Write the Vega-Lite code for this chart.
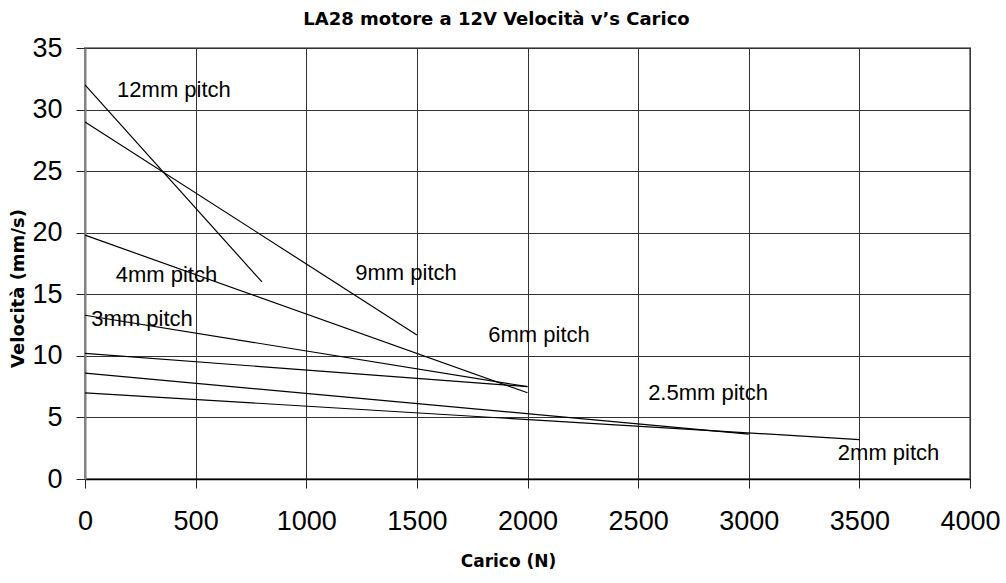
{
  "$schema": "https://vega.github.io/schema/vega-lite/v6.json",
  "width": 885,
  "height": 431,
  "autosize": {"type": "none"},
  "padding": {"left": 85, "top": 48, "right": 36, "bottom": 104},
  "background": "white",
  "title": {
    "text": "LA28 motore a 12V Velocità v’s Carico",
    "font": "DejaVu Sans",
    "fontSize": 18,
    "fontWeight": "bold",
    "color": "black",
    "anchor": "middle",
    "frame": "group",
    "dx": -31,
    "offset": 5
  },
  "config": {
    "view": {"stroke": "#888", "strokeWidth": 2},
    "axis": {
      "labelFont": "Liberation Sans",
      "labelFontSize": 27,
      "labelColor": "black",
      "titleFont": "DejaVu Sans",
      "titleFontWeight": "bold",
      "titleColor": "black",
      "gridColor": "#333",
      "gridWidth": 1,
      "gridOpacity": 1,
      "tickColor": "#222",
      "tickSize": 9,
      "domainColor": "#222"
    }
  },
  "datasets": {
    "curves": [
      {"series": "12mm pitch", "load": 0, "speed": 32},
      {"series": "12mm pitch", "load": 800, "speed": 16},
      {"series": "9mm pitch", "load": 0, "speed": 29},
      {"series": "9mm pitch", "load": 1500, "speed": 11.7},
      {"series": "6mm pitch", "load": 0, "speed": 19.8},
      {"series": "6mm pitch", "load": 2000, "speed": 7.0},
      {"series": "4mm pitch", "load": 0, "speed": 13.3},
      {"series": "4mm pitch", "load": 2000, "speed": 7.5},
      {"series": "3mm pitch", "load": 0, "speed": 10.2},
      {"series": "3mm pitch", "load": 2000, "speed": 7.5},
      {"series": "2.5mm pitch", "load": 0, "speed": 8.6},
      {"series": "2.5mm pitch", "load": 3000, "speed": 3.65},
      {"series": "2mm pitch", "load": 0, "speed": 7.0},
      {"series": "2mm pitch", "load": 3500, "speed": 3.2}
    ],
    "labels": [
      {"label": "12mm pitch", "load": 402, "speed": 31.6},
      {"label": "9mm pitch", "load": 1451, "speed": 16.7},
      {"label": "4mm pitch", "load": 368, "speed": 16.6},
      {"label": "3mm pitch", "load": 258, "speed": 13.0},
      {"label": "6mm pitch", "load": 2052, "speed": 11.7},
      {"label": "2.5mm pitch", "load": 2816, "speed": 7.0},
      {"label": "2mm pitch", "load": 3632, "speed": 2.15}
    ]
  },
  "layer": [
    {
      "data": {"name": "curves"},
      "mark": {"type": "line", "color": "black", "strokeWidth": 1.2},
      "encoding": {
        "x": {
          "field": "load",
          "type": "quantitative",
          "scale": {"domain": [0, 4000], "nice": false, "zero": false},
          "axis": {
            "values": [0, 500, 1000, 1500, 2000, 2500, 3000, 3500, 4000],
            "format": "d",
            "title": "Carico (N)",
            "titleFontSize": 17,
            "titleX": 423,
            "titleY": 82,
            "titleBaseline": "middle",
            "titleAlign": "center",
            "labelPadding": 20,
            "labelFlush": false,
            "domainColor": "black",
            "domainWidth": 1.5
          }
        },
        "y": {
          "field": "speed",
          "type": "quantitative",
          "scale": {"domain": [0, 35], "nice": false, "zero": false},
          "axis": {
            "values": [0, 5, 10, 15, 20, 25, 30, 35],
            "format": "d",
            "title": "Velocità (mm/s)",
            "titleFontSize": 18,
            "titleAngle": -90,
            "titleX": -67,
            "titleY": 240,
            "titleBaseline": "middle",
            "titleAlign": "center",
            "labelPadding": 14,
            "labelFlush": false,
            "domainColor": "#808080",
            "domainWidth": 2
          }
        },
        "detail": {"field": "series", "type": "nominal"}
      }
    },
    {
      "data": {"name": "labels"},
      "mark": {
        "type": "text",
        "font": "Liberation Sans",
        "fontSize": 22,
        "color": "black",
        "align": "center",
        "baseline": "middle"
      },
      "encoding": {
        "x": {"field": "load", "type": "quantitative"},
        "y": {"field": "speed", "type": "quantitative"},
        "text": {"field": "label", "type": "nominal"}
      }
    }
  ]
}
